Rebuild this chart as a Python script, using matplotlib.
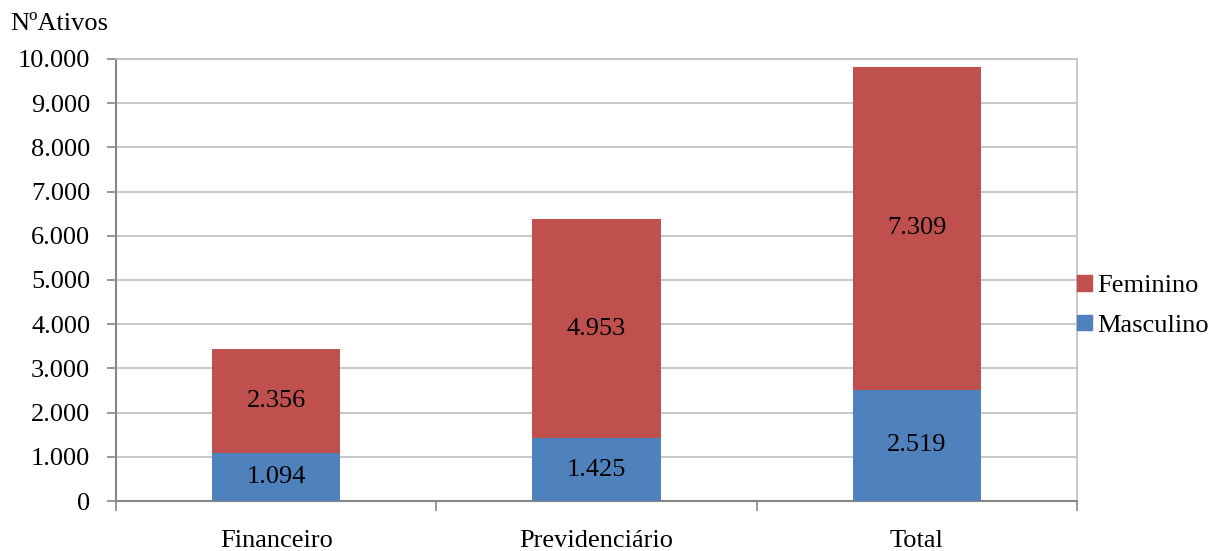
import matplotlib
matplotlib.use("Agg")
import matplotlib.pyplot as plt
import numpy as np
from matplotlib.patches import Patch
from matplotlib.ticker import FuncFormatter

plt.rcParams['font.family'] = ['Liberation Serif', 'DejaVu Serif']

categorias = ["Financeiro", "Previdenciário", "Total"]
masculino = [1094, 1425, 2519]
feminino = [2356, 4953, 7309]

cor_masc = "#4F81BD"
cor_fem = "#C0504D"
fs = 19


def milhar(v, pos=None):
    return f"{int(v):,}".replace(",", ".")


fig = plt.figure(figsize=(12.09, 5.51), dpi=100)
ax = fig.add_axes([116 / 1209, 50 / 551, (1077 - 116) / 1209, (501 - 59) / 551])

x = np.arange(len(categorias))
b1 = ax.bar(x, masculino, width=0.4, color=cor_masc, zorder=3)
b2 = ax.bar(x, feminino, width=0.4, bottom=masculino, color=cor_fem, zorder=3)

for rect, v in zip(b1, masculino):
    ax.text(rect.get_x() + rect.get_width() / 2, rect.get_y() + v / 2, milhar(v),
            ha="center", va="center", fontsize=fs, zorder=4)
for rect, v in zip(b2, feminino):
    ax.text(rect.get_x() + rect.get_width() / 2, rect.get_y() + v / 2, milhar(v),
            ha="center", va="center", fontsize=fs, zorder=4)

ax.set_xlim(-0.5, len(categorias) - 0.5)
ax.set_ylim(0, 10000)
ax.set_yticks(np.arange(0, 10001, 1000))
ax.yaxis.set_major_formatter(FuncFormatter(milhar))
ax.grid(axis="y", color="#BFBFBF", linewidth=1.2, zorder=0)

# category boundaries carry the ticks, labels sit in the middle
ax.set_xticks(np.arange(-0.5, len(categorias), 1.0))
ax.set_xticklabels([])
ax.set_xticks(x, minor=True)
ax.set_xticklabels(categorias, minor=True)
ax.tick_params(axis="x", which="minor", length=0, pad=21, labelsize=fs)
ax.tick_params(axis="x", which="major", length=7, color="#868686", width=1.2)
ax.tick_params(axis="y", length=6.5, color="#868686", width=1.2, labelsize=fs, pad=12)

for lado in ["left", "bottom"]:
    ax.spines[lado].set_color("#868686")
    ax.spines[lado].set_linewidth(1.5)
for lado in ["top", "right"]:
    ax.spines[lado].set_color("#BFBFBF")
    ax.spines[lado].set_linewidth(1.2)

fig.text(10 / 1209, 1 - 24 / 551, "NºAtivos", fontsize=fs, va="center", ha="left")

handles = [Patch(color=cor_fem, label="Feminino"), Patch(color=cor_masc, label="Masculino")]
fig.legend(handles=handles, loc="center left", bbox_to_anchor=(1077 / 1209, 1 - 306 / 551),
           frameon=False, fontsize=fs, handlelength=0.55, handleheight=0.55,
           handletextpad=0.2, labelspacing=0.65, borderaxespad=0, borderpad=0)

fig.savefig("out.png", dpi=100)
